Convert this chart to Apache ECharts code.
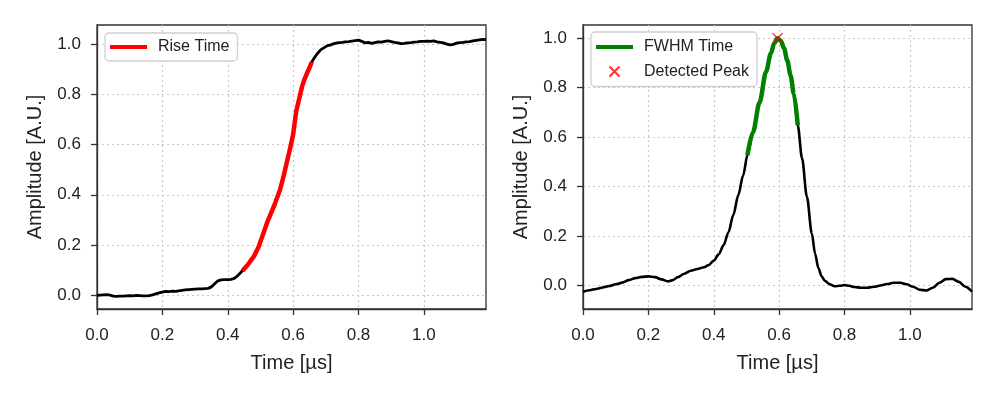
<!DOCTYPE html>
<html>
<head>
<meta charset="utf-8">
<script src="https://cdn.jsdelivr.net/npm/echarts@6/dist/echarts.min.js"></script>
<style>
  html, body { margin: 0; padding: 0; background: #fff; }
  #chart { width: 997px; height: 399px; }
</style>
</head>
<body>
<div id="chart"></div>
<script>
// left panel: normalised step response
var stepTime = [0.00, 0.01, 0.02, 0.03, 0.04, 0.05, 0.06, 0.07, 0.08, 0.09,
  0.10, 0.11, 0.12, 0.13, 0.14, 0.15, 0.16, 0.17, 0.18, 0.19,
  0.20, 0.21, 0.22, 0.23, 0.24, 0.25, 0.26, 0.27, 0.28, 0.29,
  0.30, 0.31, 0.32, 0.33, 0.34, 0.35, 0.36, 0.37, 0.38, 0.39,
  0.40, 0.41, 0.42, 0.43, 0.445, 0.46, 0.48, 0.495, 0.51, 0.52,
  0.535, 0.545, 0.56, 0.57, 0.58, 0.59, 0.60, 0.605, 0.61, 0.62,
  0.627, 0.635, 0.642, 0.65, 0.657, 0.665, 0.675, 0.685, 0.695, 0.705,
  0.715, 0.725, 0.735, 0.75, 0.76, 0.77, 0.78, 0.79, 0.80, 0.81,
  0.82, 0.83, 0.84, 0.85, 0.86, 0.87, 0.88, 0.89, 0.90, 0.91,
  0.92, 0.93, 0.94, 0.95, 0.96, 0.97, 0.98, 0.99, 1.00, 1.01,
  1.02, 1.03, 1.04, 1.05, 1.06, 1.07, 1.08, 1.09, 1.10, 1.11,
  1.12, 1.13, 1.14, 1.15, 1.16, 1.17, 1.18, 1.19];
var stepAmp = [0.000, 0.001, 0.002, 0.003, 0.001, -0.003, -0.004, -0.003, -0.003, -0.002,
  -0.001, -0.002, 0.000, -0.001, -0.002, -0.002, -0.001, 0.002, 0.006, 0.010,
  0.013, 0.016, 0.015, 0.017, 0.016, 0.018, 0.020, 0.022, 0.023, 0.024,
  0.025, 0.026, 0.026, 0.027, 0.028, 0.034, 0.046, 0.058, 0.062, 0.063,
  0.063, 0.064, 0.068, 0.078, 0.098, 0.120, 0.155, 0.195, 0.250, 0.288,
  0.335, 0.367, 0.420, 0.470, 0.525, 0.580, 0.640, 0.690, 0.735, 0.790,
  0.829, 0.860, 0.882, 0.905, 0.928, 0.945, 0.963, 0.977, 0.985, 0.993,
  0.996, 1.001, 1.004, 1.006, 1.008, 1.009, 1.011, 1.013, 1.015, 1.010,
  1.004, 1.006, 1.002, 1.005, 1.008, 1.007, 1.010, 1.012, 1.009, 1.006,
  1.004, 1.001, 1.002, 1.004, 1.005, 1.007, 1.008, 1.010, 1.010, 1.011,
  1.010, 1.012, 1.008, 1.006, 1.004, 0.999, 0.996, 0.998, 1.003, 1.005,
  1.006, 1.008, 1.009, 1.012, 1.014, 1.016, 1.018, 1.017];
var riseStart = 0.445, riseEnd = 0.657;

// right panel: pulse
var pulseTime = [0.00, 0.02, 0.04, 0.06, 0.08, 0.10, 0.12, 0.14, 0.16, 0.18,
  0.20, 0.22, 0.24, 0.26, 0.275, 0.29, 0.31, 0.33, 0.35, 0.37,
  0.385, 0.40, 0.415, 0.43, 0.445, 0.46, 0.475, 0.49, 0.503, 0.52,
  0.54, 0.56, 0.575, 0.585, 0.595, 0.605, 0.615, 0.625, 0.635, 0.645,
  0.657, 0.67, 0.685, 0.70, 0.71, 0.72, 0.73, 0.74, 0.755, 0.77,
  0.785, 0.80, 0.815, 0.83, 0.85, 0.87, 0.89, 0.91, 0.93, 0.95,
  0.97, 0.99, 1.01, 1.03, 1.05, 1.07, 1.09, 1.11, 1.13, 1.15,
  1.17, 1.19];
var pulseAmp = [-0.026, -0.020, -0.015, -0.009, -0.003, 0.004, 0.011, 0.021, 0.029, 0.034,
  0.036, 0.033, 0.024, 0.016, 0.021, 0.033, 0.047, 0.059, 0.066, 0.073,
  0.082, 0.100, 0.125, 0.162, 0.215, 0.285, 0.365, 0.445, 0.527, 0.620,
  0.740, 0.865, 0.940, 0.980, 1.000, 0.990, 0.960, 0.910, 0.850, 0.775,
  0.648, 0.515, 0.358, 0.210, 0.128, 0.070, 0.036, 0.018, 0.004, -0.004,
  -0.002, 0.001, -0.002, -0.007, -0.010, -0.010, -0.006, -0.001, 0.005, 0.010,
  0.010, 0.004, -0.006, -0.018, -0.021, -0.010, 0.010, 0.025, 0.026, 0.014,
  -0.006, -0.026];
var fwhmStart = 0.503, fwhmEnd = 0.657;
var peakPoint = [0.595, 1.0];

var xTicks = [0, 0.2, 0.4, 0.6, 0.8, 1.0];
var yTicks = [0, 0.2, 0.4, 0.6, 0.8, 1.0];

function pairs(ts, vs, lo, hi) {
  var out = [];
  for (var i = 0; i < ts.length; i++) {
    if (ts[i] >= lo && ts[i] <= hi) out.push([ts[i], vs[i]]);
  }
  return out;
}

var FONT = "Liberation Sans";
var INK = "#222";
var LINE_ICON = "path://M0,0H37V4H0Z";
var CROSS_ICON = "path://M0,0L10,10M10,0L0,10";

function xAxisOf(idx) {
  return {
    type: "value", gridIndex: idx, min: 0, max: 1.19,
    name: "Time [µs]", nameLocation: "middle", nameGap: 44,
    nameTextStyle: { fontFamily: FONT, fontSize: 20, color: INK },
    axisLine: { show: true, onZero: false, lineStyle: { color: "#333", width: 1.3 } },
    axisTick: { show: true, inside: false, length: 6, customValues: xTicks, lineStyle: { color: "#333", width: 1.3 } },
    axisLabel: { customValues: xTicks, margin: 18, fontFamily: FONT, fontSize: 17, color: INK,
      formatter: function (v) { return v.toFixed(1); } },
    splitLine: { show: true, lineStyle: { color: "#c8c8c8", type: [2, 3], width: 1.2 } }
  };
}
function yAxisOf(idx, lo, hi) {
  return {
    type: "value", gridIndex: idx, min: lo, max: hi,
    name: "Amplitude [A.U.]", nameLocation: "middle", nameGap: 52,
    nameTextStyle: { fontFamily: FONT, fontSize: 20, color: INK },
    axisLine: { show: true, onZero: false, lineStyle: { color: "#333", width: 1.3 } },
    axisTick: { show: true, inside: false, length: 6, customValues: yTicks, lineStyle: { color: "#333", width: 1.3 } },
    axisLabel: { customValues: yTicks, margin: 16, fontFamily: FONT, fontSize: 17, color: INK,
      formatter: function (v) { return v.toFixed(1); } },
    splitLine: { show: true, lineStyle: { color: "#c8c8c8", type: [2, 3], width: 1.2 } }
  };
}

var chart = echarts.init(document.getElementById("chart"), null, { renderer: "canvas" });
chart.setOption({
  animation: false,
  backgroundColor: "#fff",
  grid: [
    { left: 97, top: 25, width: 389, height: 284, show: true, borderColor: "#333", borderWidth: 1.3, backgroundColor: "transparent" },
    { left: 583, top: 25, width: 389, height: 284, show: true, borderColor: "#333", borderWidth: 1.3, backgroundColor: "transparent" }
  ],
  xAxis: [xAxisOf(0), xAxisOf(1)],
  yAxis: [yAxisOf(0, -0.054, 1.075), yAxisOf(1, -0.096, 1.054)],
  legend: [
    {
      data: [{ name: "Rise Time", icon: LINE_ICON }], left: 105, top: 33, orient: "vertical",
      itemWidth: 37, itemHeight: 10, padding: [6, 8, 6, 5],
      backgroundColor: "#fff", borderColor: "#d0d0d0", borderWidth: 1.3, borderRadius: 4,
      textStyle: { fontFamily: FONT, fontSize: 16, color: INK, padding: [0, 0, 0, 6] }
    },
    {
      data: [{ name: "FWHM Time", icon: LINE_ICON }, { name: "Detected Peak", icon: CROSS_ICON }],
      left: 591, top: 32, orient: "vertical",
      itemWidth: 37, itemHeight: 10, itemGap: 8.5, padding: [7, 8, 7, 5],
      backgroundColor: "#fff", borderColor: "#d0d0d0", borderWidth: 1.3, borderRadius: 4,
      textStyle: { fontFamily: FONT, fontSize: 16, color: INK, padding: [0, 0, 0, 6] }
    }
  ],
  series: [
    {
      name: "Signal", type: "line", xAxisIndex: 0, yAxisIndex: 0,
      data: pairs(stepTime, stepAmp, -1, 2), showSymbol: false, symbol: "none",
      lineStyle: { color: "#000", width: 2.8 }, z: 2
    },
    {
      name: "Rise Time", type: "line", xAxisIndex: 0, yAxisIndex: 0,
      data: pairs(stepTime, stepAmp, riseStart, riseEnd), showSymbol: false, symbol: "none",
      itemStyle: { color: "#ff0000" },
      lineStyle: { color: "#ff0000", width: 4.5 }, z: 3
    },
    {
      name: "Pulse", type: "line", xAxisIndex: 1, yAxisIndex: 1,
      data: pairs(pulseTime, pulseAmp, -1, 2), showSymbol: false, symbol: "none",
      smooth: 0.3, smoothMonotone: "x",
      lineStyle: { color: "#000", width: 2.6 }, z: 2
    },
    {
      name: "FWHM Time", type: "line", xAxisIndex: 1, yAxisIndex: 1,
      data: pairs(pulseTime, pulseAmp, fwhmStart, fwhmEnd), showSymbol: false, symbol: "none",
      smooth: 0.3, smoothMonotone: "x",
      itemStyle: { color: "#008000" },
      lineStyle: { color: "#008000", width: 4.5 }, z: 3
    },
    {
      name: "Detected Peak", type: "scatter", xAxisIndex: 1, yAxisIndex: 1,
      data: [peakPoint], symbol: CROSS_ICON, symbolSize: 10,
      itemStyle: { color: "none", borderColor: "#ff0000", borderWidth: 1.4 }, z: 4
    }
  ]
});
</script>
</body>
</html>
